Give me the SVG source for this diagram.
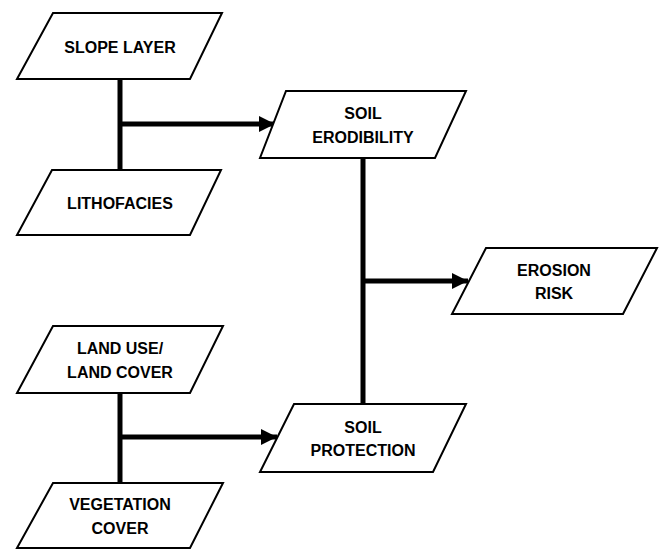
<svg xmlns="http://www.w3.org/2000/svg" width="659" height="549" viewBox="0 0 659 549">
<defs>
<style>
.box{fill:#fff;stroke:#000;stroke-width:2;stroke-linejoin:miter}
.lbl{font-family:"Liberation Sans",Arial,sans-serif;font-weight:bold;font-size:16px;fill:#000;text-anchor:middle}
.con{stroke:#000;stroke-width:5;fill:none}
</style>
<marker id="ah" markerUnits="userSpaceOnUse" markerWidth="16" markerHeight="16" viewBox="0 0 16 16" refX="16" refY="8" orient="auto">
<path d="M0,0 L16,8 L0,16 Z" fill="#000"/>
</marker>
</defs>
<rect width="659" height="549" fill="#fff"/>
<g id="connectors">
<line class="con" x1="120" y1="79" x2="120" y2="170"/>
<line class="con" x1="118" y1="124" x2="275" y2="124" marker-end="url(#ah)"/>
<line class="con" x1="363" y1="158" x2="363" y2="404"/>
<line class="con" x1="361" y1="281" x2="468" y2="281" marker-end="url(#ah)"/>
<line class="con" x1="120" y1="393" x2="120" y2="483"/>
<line class="con" x1="118" y1="437" x2="277" y2="437" marker-end="url(#ah)"/>
</g>
<g id="slope-layer">
<polygon class="box" points="53,13 222,13 190,79 17,79"/>
<text class="lbl" x="120" y="53">SLOPE LAYER</text>
</g>
<g id="lithofacies">
<polygon class="box" points="52,170 221,170 190,235 17,235"/>
<text class="lbl" x="120" y="209">LITHOFACIES</text>
</g>
<g id="soil-erodibility">
<polygon class="box" points="286,91 466,91 435,158 260,158"/>
<text class="lbl" x="363" y="119">SOIL</text>
<text class="lbl" x="363" y="143">ERODIBILITY</text>
</g>
<g id="erosion-risk">
<polygon class="box" points="486,248 657,248 623,314 452,314"/>
<text class="lbl" x="554" y="276">EROSION</text>
<text class="lbl" x="554" y="299">RISK</text>
</g>
<g id="land-use">
<polygon class="box" points="53,326 223,326 190,393 17,393"/>
<text class="lbl" x="120" y="354">LAND USE/</text>
<text class="lbl" x="120" y="378">LAND COVER</text>
</g>
<g id="soil-protection">
<polygon class="box" points="294,404 466,404 433,472 260,472"/>
<text class="lbl" x="363" y="433">SOIL</text>
<text class="lbl" x="363" y="456">PROTECTION</text>
</g>
<g id="vegetation-cover">
<polygon class="box" points="53,483 223,483 190,548 17,548"/>
<text class="lbl" x="120" y="510">VEGETATION</text>
<text class="lbl" x="120" y="534">COVER</text>
</g>
</svg>
